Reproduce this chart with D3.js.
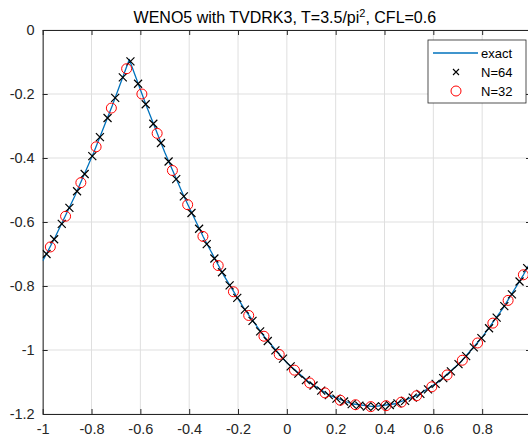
<!DOCTYPE html>
<html>
<head>
<meta charset="utf-8">
<script src="https://cdn.jsdelivr.net/npm/d3@7"></script>
<style>
  html, body { margin: 0; padding: 0; background: #fff; }
  svg { display: block; font-family: "Liberation Sans", Arial, Helvetica, sans-serif; }
  .axis text { fill: #262626; font-size: 14.5px; }
  .axis path, .axis line { stroke: #262626; }
</style>
</head>
<body>
<script>
'use strict';

// exact solution (kink near x = -0.645, minimum near x = 0.355)
const exactX = [-1.0, -0.9487, -0.8684, -0.7905, -0.7152, -0.6454,
  -0.5755, -0.5002, -0.4223, -0.3421, -0.2597, -0.1755, -0.0896, -0.0024,
  0.0859, 0.1750, 0.2647, 0.3546, 0.4446, 0.5343, 0.6234, 0.7117, 0.7989,
  0.8848, 0.9690, 1.0];
const exactY = [-0.722, -0.647, -0.519, -0.382, -0.237, -0.092,
  -0.237, -0.382, -0.519, -0.647, -0.765, -0.870, -0.961, -1.038,
  -1.098, -1.142, -1.168, -1.177, -1.168, -1.142, -1.098, -1.038, -0.961,
  -0.870, -0.765, -0.722];

// N=64 (black crosses)
const n64X = [-0.984375, -0.953125, -0.921875, -0.890625, -0.859375, -0.828125, -0.796875, -0.765625,
  -0.734375, -0.703125, -0.671875, -0.640625, -0.609375, -0.578125, -0.546875, -0.515625,
  -0.484375, -0.453125, -0.421875, -0.390625, -0.359375, -0.328125, -0.296875, -0.265625,
  -0.234375, -0.203125, -0.171875, -0.140625, -0.109375, -0.078125, -0.046875, -0.015625,
  0.015625, 0.046875, 0.078125, 0.109375, 0.140625, 0.171875, 0.203125, 0.234375,
  0.265625, 0.296875, 0.328125, 0.359375, 0.390625, 0.421875, 0.453125, 0.484375,
  0.515625, 0.546875, 0.578125, 0.609375, 0.640625, 0.671875, 0.703125, 0.734375,
  0.765625, 0.796875, 0.828125, 0.859375, 0.890625, 0.921875, 0.953125, 0.984375];
const n64Y = [-0.700, -0.654, -0.606, -0.556, -0.504, -0.450, -0.394, -0.335,
  -0.275, -0.212, -0.148, -0.098, -0.168, -0.232, -0.293, -0.353,
  -0.411, -0.466, -0.520, -0.572, -0.621, -0.669, -0.714, -0.757,
  -0.798, -0.837, -0.874, -0.909, -0.942, -0.972, -1.001, -1.027,
  -1.051, -1.074, -1.094, -1.111, -1.127, -1.141, -1.152, -1.161,
  -1.169, -1.174, -1.177, -1.177, -1.176, -1.172, -1.167, -1.159,
  -1.149, -1.137, -1.123, -1.106, -1.088, -1.067, -1.044, -1.019,
  -0.992, -0.963, -0.932, -0.899, -0.863, -0.826, -0.786, -0.744];

// N=32 (red circles)
const n32X = [-0.96875, -0.90625, -0.84375, -0.78125, -0.71875, -0.65625, -0.59375, -0.53125,
  -0.46875, -0.40625, -0.34375, -0.28125, -0.21875, -0.15625, -0.09375, -0.03125,
  0.03125, 0.09375, 0.15625, 0.21875, 0.28125, 0.34375, 0.40625, 0.46875,
  0.53125, 0.59375, 0.65625, 0.71875, 0.78125, 0.84375, 0.90625, 0.96875];
const n32Y = [-0.678, -0.582, -0.477, -0.365, -0.244, -0.121, -0.200, -0.323,
  -0.439, -0.546, -0.645, -0.736, -0.818, -0.892, -0.957, -1.014,
  -1.063, -1.103, -1.134, -1.157, -1.171, -1.177, -1.174, -1.163,
  -1.143, -1.115, -1.078, -1.032, -0.978, -0.916, -0.845, -0.765];

const xTicks = [-1, -0.8, -0.6, -0.4, -0.2, 0, 0.2, 0.4, 0.6, 0.8, 1];
const yTicks = [0, -0.2, -0.4, -0.6, -0.8, -1, -1.2];
const legendLabels = ["exact", "N=64", "N=32"];

(function() {

  const width = 528;
  const height = 440;
  const plot = { left: 42.7, right: 531, top: 30, bottom: 414 };
  const axisColor = "#262626";
  const gridColor = "#dfdfdf";

  window.onload = function() {
    let svg = d3.select("body").append("svg")
      .attr("width", width)
      .attr("height", height);

    let xScale = d3.scaleLinear().domain([-1, 1]).range([plot.left, plot.right]);
    let yScale = d3.scaleLinear().domain([-1.2, 0]).range([plot.bottom, plot.top]);

    drawGrid(svg, xScale, yScale);
    drawAxes(svg, xScale, yScale);
    plotData(svg, xScale, yScale);
    drawTitle(svg, xScale);
    drawLegend(svg);
  };

  // light grid lines behind everything
  function drawGrid(svg, xScale, yScale) {
    let g = svg.append("g").attr("class", "grid");
    g.selectAll("line.vx")
      .data(xTicks)
      .enter()
      .append("line")
        .attr("x1", (d) => xScale(d))
        .attr("x2", (d) => xScale(d))
        .attr("y1", plot.top)
        .attr("y2", plot.bottom)
        .attr("stroke", gridColor)
        .attr("stroke-width", 1);
    g.selectAll("line.hy")
      .data(yTicks)
      .enter()
      .append("line")
        .attr("x1", plot.left)
        .attr("x2", plot.right)
        .attr("y1", (d) => yScale(d))
        .attr("y2", (d) => yScale(d))
        .attr("stroke", gridColor)
        .attr("stroke-width", 1);
  }

  // box axes with inward ticks, matlab style
  function drawAxes(svg, xScale, yScale) {
    let fmt = (d) => String(d);

    svg.append("g")
      .attr("class", "axis")
      .attr("transform", "translate(0," + plot.bottom + ")")
      .call(d3.axisBottom(xScale).tickValues(xTicks).tickFormat(fmt)
        .tickSizeInner(-5).tickSizeOuter(0).tickPadding(10));

    svg.append("g")
      .attr("class", "axis")
      .attr("transform", "translate(" + plot.left + ",0)")
      .call(d3.axisLeft(yScale).tickValues(yTicks).tickFormat(fmt)
        .tickSizeInner(-5).tickSizeOuter(0).tickPadding(8));

    // top and right edges of the box
    svg.append("g")
      .attr("class", "axis")
      .attr("transform", "translate(0," + plot.top + ")")
      .call(d3.axisTop(xScale).tickValues(xTicks).tickFormat("")
        .tickSizeInner(-5).tickSizeOuter(0));

    svg.append("g")
      .attr("class", "axis")
      .attr("transform", "translate(" + plot.right + ",0)")
      .call(d3.axisRight(yScale).tickValues(yTicks).tickFormat("")
        .tickSizeInner(-5).tickSizeOuter(0));
  }

  function plotData(svg, xScale, yScale) {
    let exact = exactX.map((x, i) => ({ x: x, y: exactY[i] }));
    let n64 = n64X.map((x, i) => ({ x: x, y: n64Y[i] }));
    let n32 = n32X.map((x, i) => ({ x: x, y: n32Y[i] }));

    svg.append("clipPath")
      .attr("id", "clip")
      .append("rect")
        .attr("x", plot.left)
        .attr("y", plot.top)
        .attr("width", plot.right - plot.left)
        .attr("height", plot.bottom - plot.top);

    let line = d3.line()
      .x((d) => xScale(d.x))
      .y((d) => yScale(d.y));

    let g = svg.append("g").attr("clip-path", "url(#clip)");

    g.append("path")
      .datum(exact)
      .attr("fill", "none")
      .attr("stroke", "#0072bd")
      .attr("stroke-width", 1.3)
      .attr("stroke-linejoin", "round")
      .attr("d", line);

    g.selectAll("path.cross")
      .data(n64)
      .enter()
      .append("path")
        .attr("class", "cross")
        .attr("transform", (d) => "translate(" + xScale(d.x) + "," + yScale(d.y) + ")")
        .attr("d", "M-4,-4L4,4M-4,4L4,-4")
        .attr("stroke", "#000")
        .attr("stroke-width", 1.2)
        .attr("fill", "none");

    g.selectAll("circle.n32")
      .data(n32)
      .enter()
      .append("circle")
        .attr("class", "n32")
        .attr("cx", (d) => xScale(d.x))
        .attr("cy", (d) => yScale(d.y))
        .attr("r", 5)
        .attr("fill", "none")
        .attr("stroke", "#ff0000")
        .attr("stroke-width", 1);
  }

  function drawTitle(svg, xScale) {
    let t = svg.append("text")
      .attr("x", xScale(0) - 2)
      .attr("y", 23)
      .attr("text-anchor", "middle")
      .attr("fill", "#000")
      .style("font-size", "16px");
    t.append("tspan").text("WENO5 with TVDRK3, T=3.5/pi");
    t.append("tspan").attr("dy", -6).style("font-size", "11px").text("2");
    t.append("tspan").attr("dy", 6).text(", CFL=0.6");
  }

  function drawLegend(svg) {
    let box = { x: 428, y: 40, w: 98, h: 63 };
    let g = svg.append("g").attr("class", "legend");

    g.append("rect")
      .attr("x", box.x)
      .attr("y", box.y)
      .attr("width", box.w)
      .attr("height", box.h)
      .attr("fill", "#fff")
      .attr("stroke", axisColor)
      .attr("stroke-width", 0.8);

    let rowY = (i) => box.y + 13 + i * 19;

    g.append("line")
      .attr("x1", 433).attr("x2", 478)
      .attr("y1", rowY(0)).attr("y2", rowY(0))
      .attr("stroke", "#0072bd")
      .attr("stroke-width", 1.3);

    g.append("path")
      .attr("transform", "translate(456," + rowY(1) + ")")
      .attr("d", "M-3,-3L3,3M-3,3L3,-3")
      .attr("stroke", "#000")
      .attr("stroke-width", 1.1);

    g.append("circle")
      .attr("cx", 456)
      .attr("cy", rowY(2))
      .attr("r", 5)
      .attr("fill", "none")
      .attr("stroke", "#ff0000");

    g.selectAll("text")
      .data(legendLabels)
      .enter()
      .append("text")
        .attr("x", 481)
        .attr("y", (d, i) => rowY(i))
        .attr("dy", "0.35em")
        .attr("fill", "#000")
        .style("font-size", "13px")
        .text((d) => d);
  }

})();
</script>
</body>
</html>
